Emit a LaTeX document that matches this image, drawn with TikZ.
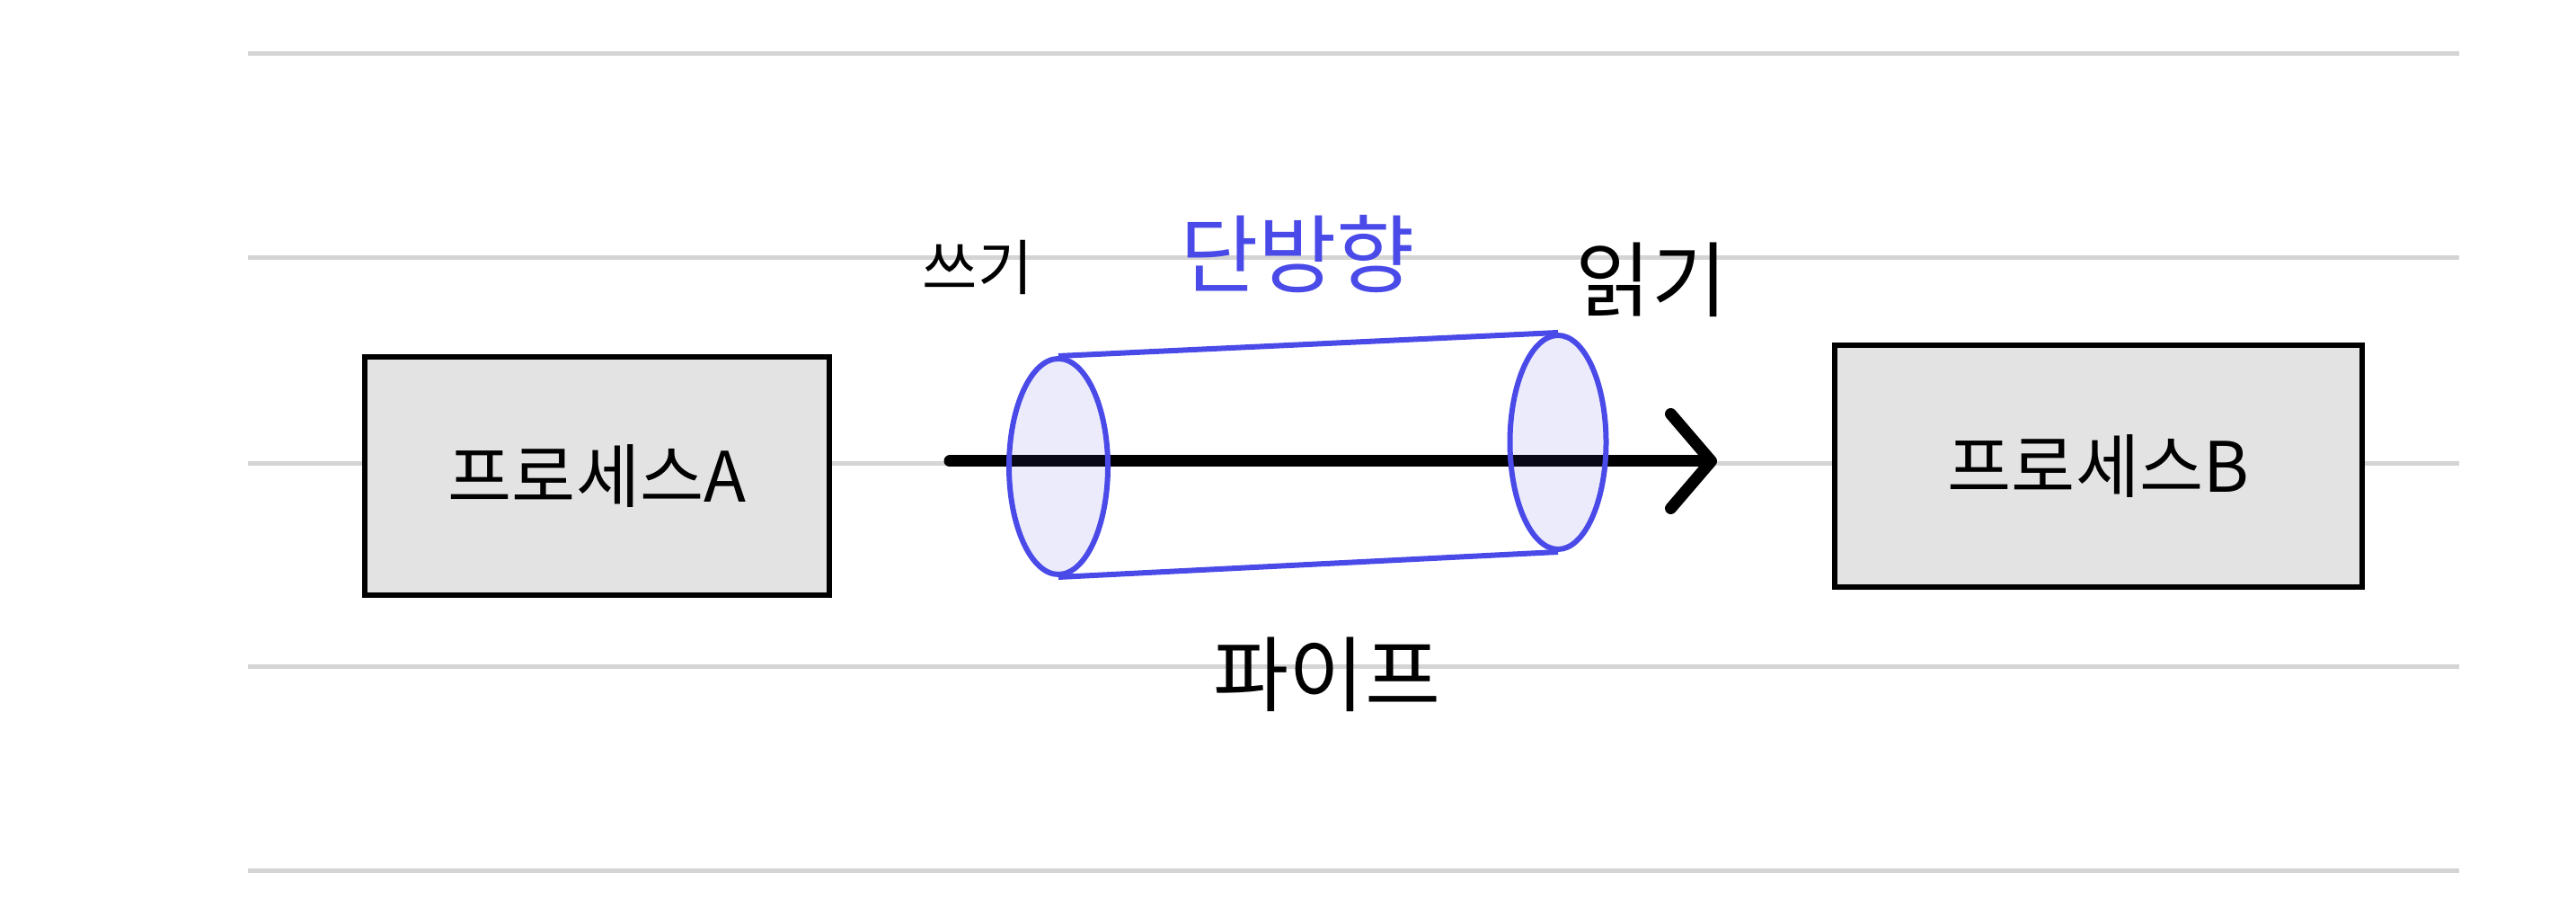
\documentclass[tikz,border=0pt]{standalone}
\usepackage{fontspec}
\newfontfamily\kr{Noto Sans CJK KR}
\usetikzlibrary{arrows.meta,positioning,shapes.geometric}
\definecolor{pipeblue}{HTML}{4A4AE8}
\definecolor{boxgray}{HTML}{E3E3E3}
\definecolor{ruleline}{HTML}{D4D4D4}

\begin{document}
\begin{tikzpicture}[
    proc/.style={draw, fill=boxgray, line width=0.06cm, minimum width=5.17cm, minimum height=2.65cm, font=\kr\fontsize{22}{22}\selectfont},
    lbl/.style={font=\kr\fontsize{26}{26}\selectfont, text=black},
    pipeend/.style={ellipse, draw=pipeblue, fill=pipeblue, fill opacity=0.11, draw opacity=1, line width=0.06cm, minimum width=1.1cm, minimum height=2.4cm, inner sep=0pt},
    flow/.style={-{Straight Barb[length=4.5mm,width=10.5mm,line cap=round,line join=round]}, line width=0.13cm, line cap=round, black},
]
\useasboundingbox (0,0) rectangle (28.67,10);

% ruled lines
\foreach \y in {9.40,7.13,4.84,2.58,0.31}
  \draw[ruleline, line width=0.05cm] (2.76,\y) -- (27.37,\y);

% processes
\node[proc] (procA) at (6.645,4.705) {프로세스A};
\node[proc, minimum width=5.87cm, minimum height=2.69cm] (procB) at (23.355,4.815) {프로세스B};

% data flow
\coordinate (flowin) at (10.57,4.87);
\coordinate (flowout) at (19.11,4.87);
\draw[flow] (flowin) -- (flowout);

% pipe
\node[pipeend] (wend) at (11.78,4.81) {};
\node[pipeend, minimum width=1.07cm, minimum height=2.38cm] (rend) at (17.34,5.08) {};
\draw[pipeblue, line width=0.06cm] (wend.north) -- (rend.north);
\draw[pipeblue, line width=0.06cm] (wend.south) -- (rend.south);

% labels
\node[lbl, font=\kr\fontsize{19}{19}\selectfont] (write) at (10.88,7.02) {쓰기};
\node[lbl, text=pipeblue, font=\kr\fontsize{27}{27}\selectfont] (oneway) at (14.44,7.17) {단방향};
\node[lbl] (read) at (18.38,6.89) {읽기};
\node[lbl] (pipe) at (14.77,2.50) {파이프};
\end{tikzpicture}
\end{document}
